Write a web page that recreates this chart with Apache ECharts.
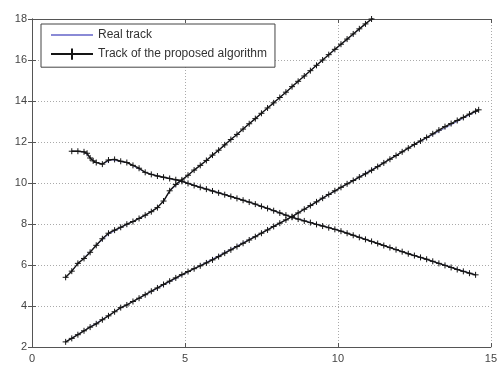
<!DOCTYPE html>
<html>
<head>
<meta charset="utf-8">
<script src="https://cdn.jsdelivr.net/npm/echarts@6/dist/echarts.min.js"></script>
<style>
  html, body { margin: 0; padding: 0; background: #fff; }
  #chart { width: 500px; height: 365px; }
</style>
</head>
<body>
<div id="chart"></div>
<script>
// Axis ticks
const xTicks = [0, 5, 10, 15];
const yTicks = [2, 4, 6, 8, 10, 12, 14, 16, 18];

// Real (ground-truth) tracks of the three targets: [x, y]
const realTrack1 = [[1.1, 5.38], [1.5, 6.05], [2.1, 6.95], [2.5, 7.5], [3.1, 7.98], [3.7, 8.42],
  [4.1, 8.8], [4.3, 9.1], [4.5, 9.6], [4.9, 10.14], [6.1, 11.6], [8.1, 14.17], [9.5, 16.0], [11.3, 18.25]];
const realTrack2 = [[1.1, 2.25], [2.9, 3.9], [5.1, 5.66], [8.5, 8.36], [10.1, 9.78], [12.5, 11.87], [14.6, 13.56]];
const realTrack3 = [[1.3, 11.55], [1.7, 11.52], [1.9, 11.22], [2.1, 11.0], [2.3, 10.93], [2.6, 11.13],
  [3.1, 11.0], [3.7, 10.52], [4.1, 10.34], [4.9, 10.08], [7.1, 9.07], [8.5, 8.33], [10.1, 7.66],
  [12.1, 6.65], [14.5, 5.52]];

// Tracks estimated by the proposed algorithm
const estTrack1 = [
  [1.1, 5.40], [1.3, 5.70], [1.5, 6.08], [1.7, 6.32], [1.9, 6.62], [2.1, 6.96], [2.3, 7.28],
  [2.5, 7.55], [2.7, 7.70], [2.9, 7.84], [3.1, 7.99], [3.3, 8.12], [3.5, 8.27], [3.7, 8.43],
  [3.9, 8.60], [4.1, 8.80], [4.3, 9.12], [4.5, 9.62], [4.7, 9.93], [4.9, 10.15], [5.1, 10.38],
  [5.3, 10.63], [5.5, 10.86], [5.7, 11.10], [5.9, 11.36], [6.1, 11.60], [6.3, 11.86],
  [6.5, 12.12], [6.7, 12.37], [6.9, 12.63], [7.1, 12.89], [7.3, 13.14], [7.5, 13.40],
  [7.7, 13.66], [7.9, 13.91], [8.1, 14.17], [8.3, 14.43], [8.5, 14.70], [8.7, 14.96],
  [8.9, 15.22], [9.1, 15.48], [9.3, 15.74], [9.5, 16.00], [9.7, 16.26], [9.9, 16.52],
  [10.1, 16.77], [10.3, 17.02], [10.5, 17.27], [10.7, 17.52], [10.9, 17.76], [11.1, 18.00],
  [11.3, 18.25]
];
const estTrack2 = [
  [1.1, 2.25], [1.3, 2.42], [1.5, 2.60], [1.7, 2.79], [1.9, 2.97], [2.1, 3.13], [2.3, 3.33],
  [2.5, 3.52], [2.7, 3.72], [2.9, 3.92], [3.1, 4.05], [3.3, 4.22], [3.5, 4.38], [3.7, 4.55],
  [3.9, 4.72], [4.1, 4.88], [4.3, 5.05], [4.5, 5.21], [4.7, 5.37], [4.9, 5.53], [5.1, 5.68],
  [5.3, 5.82], [5.5, 5.96], [5.7, 6.10], [5.9, 6.25], [6.1, 6.41], [6.3, 6.58], [6.5, 6.74],
  [6.7, 6.90], [6.9, 7.06], [7.1, 7.22], [7.3, 7.38], [7.5, 7.55], [7.7, 7.71], [7.9, 7.88],
  [8.1, 8.04], [8.3, 8.20], [8.5, 8.36], [8.7, 8.54], [8.9, 8.72], [9.1, 8.90], [9.3, 9.08],
  [9.5, 9.26], [9.7, 9.44], [9.9, 9.62], [10.1, 9.79], [10.3, 9.96], [10.5, 10.12],
  [10.7, 10.29], [10.9, 10.45], [11.1, 10.62], [11.3, 10.80], [11.5, 10.98], [11.7, 11.16],
  [11.9, 11.34], [12.1, 11.52], [12.3, 11.70], [12.5, 11.88], [12.7, 12.05], [12.9, 12.22],
  [13.1, 12.40], [13.3, 12.58], [13.5, 12.75], [13.7, 12.90], [13.9, 13.05], [14.1, 13.20],
  [14.3, 13.36], [14.5, 13.50], [14.6, 13.57]
];
const estTrack3 = [
  [1.3, 11.55], [1.5, 11.55], [1.7, 11.52], [1.8, 11.45], [1.9, 11.22], [2.0, 11.08],
  [2.1, 11.00], [2.3, 10.92], [2.5, 11.12], [2.7, 11.15], [2.9, 11.06], [3.1, 11.00],
  [3.3, 10.86], [3.5, 10.72], [3.7, 10.52], [3.9, 10.42], [4.1, 10.34], [4.3, 10.28],
  [4.5, 10.22], [4.7, 10.16], [4.9, 10.08], [5.1, 9.98], [5.3, 9.88], [5.5, 9.79],
  [5.7, 9.70], [5.9, 9.61], [6.1, 9.52], [6.3, 9.43], [6.5, 9.34], [6.7, 9.25], [6.9, 9.16],
  [7.1, 9.07], [7.3, 8.97], [7.5, 8.86], [7.7, 8.76], [7.9, 8.65], [8.1, 8.54], [8.3, 8.43],
  [8.5, 8.33], [8.7, 8.24], [8.9, 8.15], [9.1, 8.07], [9.3, 7.98], [9.5, 7.90], [9.7, 7.82],
  [9.9, 7.74], [10.1, 7.65], [10.3, 7.55], [10.5, 7.45], [10.7, 7.35], [10.9, 7.25],
  [11.1, 7.15], [11.3, 7.05], [11.5, 6.95], [11.7, 6.85], [11.9, 6.75], [12.1, 6.65],
  [12.3, 6.55], [12.5, 6.46], [12.7, 6.37], [12.9, 6.28], [13.1, 6.18], [13.3, 6.08],
  [13.5, 5.98], [13.7, 5.88], [13.9, 5.78], [14.1, 5.69], [14.3, 5.60], [14.5, 5.52]
];

const FONT = 'Liberation Sans, Arial, sans-serif';
const PLUS = 'path://M5,0L5,10M0,5L10,5';
const realColor = '#8a8ad6';
const estColor = '#151515';

function realSeries(name, data) {
  return {
    name: name, type: 'line', data: data, showSymbol: false, symbol: 'none',
    lineStyle: { color: realColor, width: 1 }, itemStyle: { color: realColor },
    z: 2, silent: true, animation: false, clip: true
  };
}
function estSeries(name, data) {
  return {
    name: name, type: 'line', data: data, symbol: PLUS, symbolSize: 6, showSymbol: true,
    lineStyle: { color: estColor, width: 1.4 },
    itemStyle: { color: 'none', borderColor: estColor, borderWidth: 1 },
    z: 3, silent: true, animation: false, clip: true
  };
}

const axisCommon = {
  type: 'value',
  axisLine: { show: true, lineStyle: { color: '#555', width: 1 } },
  axisTick: { show: true, inside: true, length: 4, lineStyle: { color: '#555' } },
  splitLine: { show: false }
};

const chart = echarts.init(document.getElementById('chart'), null, { renderer: 'canvas' });
chart.setOption({
  animation: false,
  backgroundColor: '#fff',
  grid: { left: 32, right: 7, top: 19, bottom: 18, containLabel: false },
  legend: {
    left: 41, top: 24, orient: 'vertical',
    padding: [5, 8, 5, 9], itemGap: 5, itemWidth: 42, itemHeight: 14,
    backgroundColor: '#fff', borderColor: '#444', borderWidth: 1, borderRadius: 0,
    textStyle: { fontFamily: FONT, fontSize: 12, color: '#333' },
    data: [
      { name: 'Real track', itemStyle: { color: 'transparent', borderWidth: 0, opacity: 0 } },
      { name: 'Track of the proposed algorithm' }
    ]
  },
  xAxis: [
    Object.assign({}, axisCommon, {
      min: xTicks[0], max: xTicks[xTicks.length - 1], interval: 5, position: 'bottom',
      axisLabel: { show: true, margin: 6, fontFamily: FONT, fontSize: 11, color: '#444' },
      splitLine: { show: true, lineStyle: { color: '#aaa', type: [1, 2], width: 1 } }
    }),
    Object.assign({}, axisCommon, {
      min: xTicks[0], max: xTicks[xTicks.length - 1], interval: 5, position: 'top',
      axisLabel: { show: false }
    })
  ],
  yAxis: [
    Object.assign({}, axisCommon, {
      min: yTicks[0], max: yTicks[yTicks.length - 1], interval: 2, position: 'left',
      axisLabel: { show: true, margin: 5, fontFamily: FONT, fontSize: 11, color: '#444' },
      splitLine: { show: true, lineStyle: { color: '#aaa', type: [1, 2], width: 1 } }
    }),
    Object.assign({}, axisCommon, {
      min: yTicks[0], max: yTicks[yTicks.length - 1], interval: 2, position: 'right',
      axisLabel: { show: false }
    })
  ],
  series: [
    realSeries('Real track', realTrack1),
    realSeries('Real track', realTrack2),
    realSeries('Real track', realTrack3),
    estSeries('Track of the proposed algorithm', estTrack1),
    estSeries('Track of the proposed algorithm', estTrack2),
    estSeries('Track of the proposed algorithm', estTrack3)
  ]
});
</script>
</body>
</html>
